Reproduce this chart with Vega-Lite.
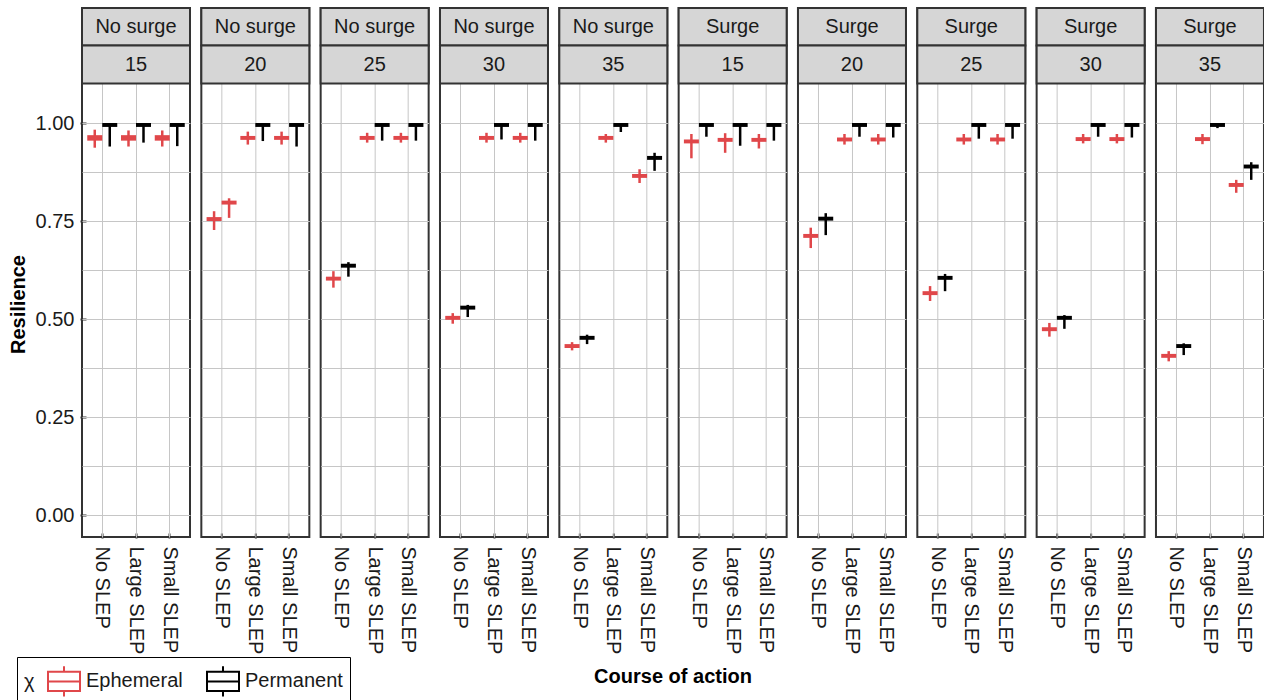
{
  "$schema": "https://vega.github.io/schema/vega-lite/v6.json",
  "padding": {"left": 8, "top": 6, "right": 0, "bottom": 0},
  "data": {"values": [
    {"panel":"No surge 15","surge":"No surge","thr":"15","course":"No SLEP","pos":"L","chi":"Ephemeral","lo":0.937,"q1":0.955,"med":0.962,"q3":0.969,"hi":0.983},
    {"panel":"No surge 15","surge":"No surge","thr":"15","course":"No SLEP","pos":"R","chi":"Permanent","lo":0.940,"q1":0.990,"med":0.995,"q3":1.0,"hi":1.0},
    {"panel":"No surge 15","surge":"No surge","thr":"15","course":"Large SLEP","pos":"L","chi":"Ephemeral","lo":0.940,"q1":0.955,"med":0.962,"q3":0.969,"hi":0.981},
    {"panel":"No surge 15","surge":"No surge","thr":"15","course":"Large SLEP","pos":"R","chi":"Permanent","lo":0.950,"q1":0.990,"med":0.995,"q3":1.0,"hi":1.0},
    {"panel":"No surge 15","surge":"No surge","thr":"15","course":"Small SLEP","pos":"L","chi":"Ephemeral","lo":0.940,"q1":0.955,"med":0.962,"q3":0.969,"hi":0.981},
    {"panel":"No surge 15","surge":"No surge","thr":"15","course":"Small SLEP","pos":"R","chi":"Permanent","lo":0.941,"q1":0.990,"med":0.995,"q3":1.0,"hi":1.0},

    {"panel":"No surge 20","surge":"No surge","thr":"20","course":"No SLEP","pos":"L","chi":"Ephemeral","lo":0.727,"q1":0.750,"med":0.755,"q3":0.760,"hi":0.775},
    {"panel":"No surge 20","surge":"No surge","thr":"20","course":"No SLEP","pos":"R","chi":"Ephemeral","lo":0.758,"q1":0.792,"med":0.797,"q3":0.802,"hi":0.808},
    {"panel":"No surge 20","surge":"No surge","thr":"20","course":"Large SLEP","pos":"L","chi":"Ephemeral","lo":0.945,"q1":0.957,"med":0.962,"q3":0.967,"hi":0.978},
    {"panel":"No surge 20","surge":"No surge","thr":"20","course":"Large SLEP","pos":"R","chi":"Permanent","lo":0.954,"q1":0.990,"med":0.995,"q3":1.0,"hi":1.0},
    {"panel":"No surge 20","surge":"No surge","thr":"20","course":"Small SLEP","pos":"L","chi":"Ephemeral","lo":0.945,"q1":0.957,"med":0.962,"q3":0.967,"hi":0.978},
    {"panel":"No surge 20","surge":"No surge","thr":"20","course":"Small SLEP","pos":"R","chi":"Permanent","lo":0.940,"q1":0.990,"med":0.995,"q3":1.0,"hi":1.0},

    {"panel":"No surge 25","surge":"No surge","thr":"25","course":"No SLEP","pos":"L","chi":"Ephemeral","lo":0.580,"q1":0.598,"med":0.603,"q3":0.608,"hi":0.622},
    {"panel":"No surge 25","surge":"No surge","thr":"25","course":"No SLEP","pos":"R","chi":"Permanent","lo":0.608,"q1":0.631,"med":0.636,"q3":0.641,"hi":0.645},
    {"panel":"No surge 25","surge":"No surge","thr":"25","course":"Large SLEP","pos":"L","chi":"Ephemeral","lo":0.950,"q1":0.957,"med":0.962,"q3":0.967,"hi":0.975},
    {"panel":"No surge 25","surge":"No surge","thr":"25","course":"Large SLEP","pos":"R","chi":"Permanent","lo":0.955,"q1":0.990,"med":0.995,"q3":1.0,"hi":1.0},
    {"panel":"No surge 25","surge":"No surge","thr":"25","course":"Small SLEP","pos":"L","chi":"Ephemeral","lo":0.950,"q1":0.957,"med":0.962,"q3":0.967,"hi":0.975},
    {"panel":"No surge 25","surge":"No surge","thr":"25","course":"Small SLEP","pos":"R","chi":"Permanent","lo":0.955,"q1":0.990,"med":0.995,"q3":1.0,"hi":1.0},

    {"panel":"No surge 30","surge":"No surge","thr":"30","course":"No SLEP","pos":"L","chi":"Ephemeral","lo":0.488,"q1":0.498,"med":0.503,"q3":0.508,"hi":0.515},
    {"panel":"No surge 30","surge":"No surge","thr":"30","course":"No SLEP","pos":"R","chi":"Permanent","lo":0.505,"q1":0.524,"med":0.529,"q3":0.534,"hi":0.536},
    {"panel":"No surge 30","surge":"No surge","thr":"30","course":"Large SLEP","pos":"L","chi":"Ephemeral","lo":0.950,"q1":0.957,"med":0.962,"q3":0.967,"hi":0.975},
    {"panel":"No surge 30","surge":"No surge","thr":"30","course":"Large SLEP","pos":"R","chi":"Permanent","lo":0.958,"q1":0.990,"med":0.995,"q3":1.0,"hi":1.0},
    {"panel":"No surge 30","surge":"No surge","thr":"30","course":"Small SLEP","pos":"L","chi":"Ephemeral","lo":0.950,"q1":0.957,"med":0.962,"q3":0.967,"hi":0.975},
    {"panel":"No surge 30","surge":"No surge","thr":"30","course":"Small SLEP","pos":"R","chi":"Permanent","lo":0.955,"q1":0.990,"med":0.995,"q3":1.0,"hi":1.0},

    {"panel":"No surge 35","surge":"No surge","thr":"35","course":"No SLEP","pos":"L","chi":"Ephemeral","lo":0.420,"q1":0.426,"med":0.431,"q3":0.436,"hi":0.441},
    {"panel":"No surge 35","surge":"No surge","thr":"35","course":"No SLEP","pos":"R","chi":"Permanent","lo":0.436,"q1":0.447,"med":0.452,"q3":0.457,"hi":0.460},
    {"panel":"No surge 35","surge":"No surge","thr":"35","course":"Large SLEP","pos":"L","chi":"Ephemeral","lo":0.950,"q1":0.957,"med":0.962,"q3":0.967,"hi":0.972},
    {"panel":"No surge 35","surge":"No surge","thr":"35","course":"Large SLEP","pos":"R","chi":"Permanent","lo":0.977,"q1":0.990,"med":0.995,"q3":1.0,"hi":1.0},
    {"panel":"No surge 35","surge":"No surge","thr":"35","course":"Small SLEP","pos":"L","chi":"Ephemeral","lo":0.847,"q1":0.860,"med":0.865,"q3":0.870,"hi":0.882},
    {"panel":"No surge 35","surge":"No surge","thr":"35","course":"Small SLEP","pos":"R","chi":"Permanent","lo":0.878,"q1":0.906,"med":0.911,"q3":0.916,"hi":0.924},

    {"panel":"Surge 15","surge":"Surge","thr":"15","course":"No SLEP","pos":"L","chi":"Ephemeral","lo":0.910,"q1":0.948,"med":0.953,"q3":0.958,"hi":0.972},
    {"panel":"Surge 15","surge":"Surge","thr":"15","course":"No SLEP","pos":"R","chi":"Permanent","lo":0.965,"q1":0.990,"med":0.995,"q3":1.0,"hi":1.0},
    {"panel":"Surge 15","surge":"Surge","thr":"15","course":"Large SLEP","pos":"L","chi":"Ephemeral","lo":0.924,"q1":0.952,"med":0.957,"q3":0.962,"hi":0.974},
    {"panel":"Surge 15","surge":"Surge","thr":"15","course":"Large SLEP","pos":"R","chi":"Permanent","lo":0.942,"q1":0.990,"med":0.995,"q3":1.0,"hi":1.0},
    {"panel":"Surge 15","surge":"Surge","thr":"15","course":"Small SLEP","pos":"L","chi":"Ephemeral","lo":0.935,"q1":0.952,"med":0.957,"q3":0.962,"hi":0.972},
    {"panel":"Surge 15","surge":"Surge","thr":"15","course":"Small SLEP","pos":"R","chi":"Permanent","lo":0.955,"q1":0.990,"med":0.995,"q3":1.0,"hi":1.0},

    {"panel":"Surge 20","surge":"Surge","thr":"20","course":"No SLEP","pos":"L","chi":"Ephemeral","lo":0.681,"q1":0.707,"med":0.712,"q3":0.717,"hi":0.733},
    {"panel":"Surge 20","surge":"Surge","thr":"20","course":"No SLEP","pos":"R","chi":"Permanent","lo":0.714,"q1":0.751,"med":0.756,"q3":0.761,"hi":0.770},
    {"panel":"Surge 20","surge":"Surge","thr":"20","course":"Large SLEP","pos":"L","chi":"Ephemeral","lo":0.945,"q1":0.953,"med":0.958,"q3":0.963,"hi":0.972},
    {"panel":"Surge 20","surge":"Surge","thr":"20","course":"Large SLEP","pos":"R","chi":"Permanent","lo":0.965,"q1":0.990,"med":0.995,"q3":1.0,"hi":1.0},
    {"panel":"Surge 20","surge":"Surge","thr":"20","course":"Small SLEP","pos":"L","chi":"Ephemeral","lo":0.945,"q1":0.953,"med":0.958,"q3":0.963,"hi":0.972},
    {"panel":"Surge 20","surge":"Surge","thr":"20","course":"Small SLEP","pos":"R","chi":"Permanent","lo":0.963,"q1":0.990,"med":0.995,"q3":1.0,"hi":1.0},

    {"panel":"Surge 25","surge":"Surge","thr":"25","course":"No SLEP","pos":"L","chi":"Ephemeral","lo":0.546,"q1":0.561,"med":0.566,"q3":0.571,"hi":0.584},
    {"panel":"Surge 25","surge":"Surge","thr":"25","course":"No SLEP","pos":"R","chi":"Permanent","lo":0.571,"q1":0.600,"med":0.605,"q3":0.610,"hi":0.615},
    {"panel":"Surge 25","surge":"Surge","thr":"25","course":"Large SLEP","pos":"L","chi":"Ephemeral","lo":0.945,"q1":0.953,"med":0.958,"q3":0.963,"hi":0.972},
    {"panel":"Surge 25","surge":"Surge","thr":"25","course":"Large SLEP","pos":"R","chi":"Permanent","lo":0.960,"q1":0.990,"med":0.995,"q3":1.0,"hi":1.0},
    {"panel":"Surge 25","surge":"Surge","thr":"25","course":"Small SLEP","pos":"L","chi":"Ephemeral","lo":0.945,"q1":0.953,"med":0.958,"q3":0.963,"hi":0.972},
    {"panel":"Surge 25","surge":"Surge","thr":"25","course":"Small SLEP","pos":"R","chi":"Permanent","lo":0.960,"q1":0.990,"med":0.995,"q3":1.0,"hi":1.0},

    {"panel":"Surge 30","surge":"Surge","thr":"30","course":"No SLEP","pos":"L","chi":"Ephemeral","lo":0.455,"q1":0.469,"med":0.474,"q3":0.479,"hi":0.490},
    {"panel":"Surge 30","surge":"Surge","thr":"30","course":"No SLEP","pos":"R","chi":"Permanent","lo":0.475,"q1":0.498,"med":0.503,"q3":0.508,"hi":0.510},
    {"panel":"Surge 30","surge":"Surge","thr":"30","course":"Large SLEP","pos":"L","chi":"Ephemeral","lo":0.948,"q1":0.954,"med":0.959,"q3":0.964,"hi":0.972},
    {"panel":"Surge 30","surge":"Surge","thr":"30","course":"Large SLEP","pos":"R","chi":"Permanent","lo":0.965,"q1":0.990,"med":0.995,"q3":1.0,"hi":1.0},
    {"panel":"Surge 30","surge":"Surge","thr":"30","course":"Small SLEP","pos":"L","chi":"Ephemeral","lo":0.948,"q1":0.954,"med":0.959,"q3":0.964,"hi":0.972},
    {"panel":"Surge 30","surge":"Surge","thr":"30","course":"Small SLEP","pos":"R","chi":"Permanent","lo":0.963,"q1":0.990,"med":0.995,"q3":1.0,"hi":1.0},

    {"panel":"Surge 35","surge":"Surge","thr":"35","course":"No SLEP","pos":"L","chi":"Ephemeral","lo":0.392,"q1":0.401,"med":0.406,"q3":0.411,"hi":0.418},
    {"panel":"Surge 35","surge":"Surge","thr":"35","course":"No SLEP","pos":"R","chi":"Permanent","lo":0.408,"q1":0.426,"med":0.431,"q3":0.436,"hi":0.438},
    {"panel":"Surge 35","surge":"Surge","thr":"35","course":"Large SLEP","pos":"L","chi":"Ephemeral","lo":0.946,"q1":0.954,"med":0.959,"q3":0.964,"hi":0.972},
    {"panel":"Surge 35","surge":"Surge","thr":"35","course":"Large SLEP","pos":"R","chi":"Permanent","lo":0.987,"q1":0.990,"med":0.995,"q3":1.0,"hi":1.0},
    {"panel":"Surge 35","surge":"Surge","thr":"35","course":"Small SLEP","pos":"L","chi":"Ephemeral","lo":0.822,"q1":0.837,"med":0.842,"q3":0.847,"hi":0.855},
    {"panel":"Surge 35","surge":"Surge","thr":"35","course":"Small SLEP","pos":"R","chi":"Permanent","lo":0.855,"q1":0.884,"med":0.889,"q3":0.894,"hi":0.900}
  ]},
  "facet": {
    "column": {
      "field": "panel",
      "type": "nominal",
      "header": {
        "labels": false,
        "title": "Course of action",
        "titleOrient": "bottom",
        "titleFontSize": 20,
        "titleFontWeight": "bold",
        "titleColor": "#000000",
        "titlePadding": 3
      }
    }
  },
  "spacing": {"column": 7.33},
  "spec": {
    "width": 108,
    "height": 529,
    "layer": [
      {
        "mark": {"type": "rule", "strokeWidth": 2.5},
        "encoding": {
          "x": {
            "field": "course",
            "type": "nominal",
            "sort": ["No SLEP", "Large SLEP", "Small SLEP"],
            "scale": {"paddingInner": 0, "paddingOuter": 0.1},
            "axis": {
              "title": null,
              "labelAngle": 90,
              "labelAlign": "left",
              "labelBaseline": "middle",
              "labelPadding": 13,
              "tickSize": -5,
              "grid": true,
              "bandPosition": 0.5
            }
          },
          "xOffset": {
            "field": "pos",
            "type": "nominal",
            "scale": {"domain": ["L", "R"], "paddingInner": 0, "paddingOuter": 0.125}
          },
          "y": {
            "field": "lo",
            "type": "quantitative",
            "scale": {"domain": [-0.0561, 1.2934], "nice": false, "zero": false},
            "axis": {
              "values": [0, 0.125, 0.25, 0.375, 0.5, 0.625, 0.75, 0.875, 1],
              "labelExpr": "datum.value * 4 % 1 === 0 ? format(datum.value, '.2f') : ''",
              "tickOpacity": {"condition": {"test": "datum.value * 4 % 1 === 0", "value": 1}, "value": 0},
              "tickSize": -6,
              "labelPadding": 12,
              "title": "Resilience",
              "titleFontSize": 20,
              "titleFontWeight": "bold",
              "titleColor": "#000000",
              "titlePadding": 7,
              "titleY": 296
            }
          },
          "y2": {"field": "hi"},
          "color": {
            "field": "chi",
            "type": "nominal",
            "scale": {"domain": ["Ephemeral", "Permanent"], "range": ["#e0474a", "#000000"]},
            "legend": {
              "title": "χ",
              "orient": "none",
              "legendX": -65,
              "legendY": 649,
              "direction": "horizontal",
              "titleOrient": "left",
              "titleFontSize": 20,
              "titleFontWeight": "normal",
              "titleColor": "#1a1a1a",
              "titlePadding": 12,
              "labelFontSize": 20,
              "labelColor": "#1a1a1a",
              "labelOffset": 5,
              "columnPadding": 20,
              "symbolSize": 1024,
              "symbolType": "M-1,-0.6H1V0.6H-1Z M-1,0H1 M0,-0.6V-0.95 M0,0.6V0.95",
              "symbolStrokeWidth": 2,
              "strokeColor": "#000000",
              "padding": 7,
              "encode": {
                "symbols": {
                  "update": {
                    "fillOpacity": {"value": 0},
                    "stroke": {"scale": "color", "field": "value"},
                    "strokeWidth": {"value": 2},
                    "shape": {"value": "M-1,-0.6H1V0.6H-1Z M-1,0H1 M0,-0.6V-0.95 M0,0.6V0.95"}
                  }
                }
              }
            }
          }
        }
      },
      {
        "mark": {"type": "bar"},
        "encoding": {
          "x": {"field": "course", "type": "nominal", "sort": ["No SLEP", "Large SLEP", "Small SLEP"]},
          "xOffset": {"field": "pos", "type": "nominal"},
          "y": {"field": "q1", "type": "quantitative"},
          "y2": {"field": "q3"},
          "color": {"field": "chi", "type": "nominal"}
        }
      },
      {
        "transform": [{"filter": "datum.course === 'No SLEP' && datum.pos === 'L'"}],
        "mark": {"type": "rect", "fill": "#d6d6d6", "stroke": "#333333", "strokeWidth": 2},
        "encoding": {
          "y": {"datum": 1.1977, "type": "quantitative"},
          "y2": {"datum": 1.2934}
        }
      },
      {
        "transform": [{"filter": "datum.course === 'No SLEP' && datum.pos === 'L'"}],
        "mark": {"type": "rect", "fill": "#d6d6d6", "stroke": "#333333", "strokeWidth": 2},
        "encoding": {
          "y": {"datum": 1.1008, "type": "quantitative"},
          "y2": {"datum": 1.1977}
        }
      },
      {
        "transform": [{"filter": "datum.course === 'No SLEP' && datum.pos === 'L'"}],
        "mark": {"type": "text", "fontSize": 20, "color": "#1a1a1a", "baseline": "middle"},
        "encoding": {
          "y": {"datum": 1.2455, "type": "quantitative"},
          "text": {"field": "surge"}
        }
      },
      {
        "transform": [{"filter": "datum.course === 'No SLEP' && datum.pos === 'L'"}],
        "mark": {"type": "text", "fontSize": 20, "color": "#1a1a1a", "baseline": "middle"},
        "encoding": {
          "y": {"datum": 1.1492, "type": "quantitative"},
          "text": {"field": "thr"}
        }
      }
    ]
  },
  "config": {
    "font": "Liberation Sans",
    "view": {"stroke": "#333333", "strokeWidth": 2},
    "axis": {
      "domain": false,
      "gridColor": "#c6c6c6",
      "gridWidth": 1,
      "labelColor": "#1a1a1a",
      "labelFontSize": 20,
      "tickColor": "#333333",
      "tickWidth": 2
    }
  }
}
